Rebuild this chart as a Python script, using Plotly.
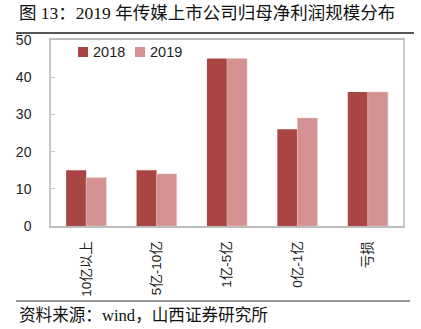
import plotly.graph_objects as go

# Profit-size buckets and number of listed media companies in each
categories = ["10亿以上", "5亿-10亿", "1亿-5亿", "0亿-1亿", "亏损"]
series_names = ["2018", "2019"]
counts_2018 = [15, 15, 45, 26, 36]
counts_2019 = [13, 14, 45, 29, 36]
y_ticks = [0, 10, 20, 30, 40, 50]
colors = ["#A94644", "#D39191"]

W, H = 421, 329
L, R, T, B = 51, 18, 40, 103
pw, ph = W - L - R, H - T - B


def px(x):
    return (x - L) / pw


def py(y):
    return (H - B - y) / ph


fig = go.Figure()
fig.add_trace(go.Bar(name=series_names[0], x=categories, y=counts_2018,
                     marker=dict(color=colors[0], line=dict(width=0))))
fig.add_trace(go.Bar(name=series_names[1], x=categories, y=counts_2019,
                     marker=dict(color=colors[1], line=dict(color="#E6C2C2", width=0.6))))

tick_font = dict(family="Liberation Sans, Noto Sans CJK SC", size=13.5, color="#222222")

fig.update_layout(
    width=W, height=H,
    margin=dict(l=L, r=R, t=T, b=B, pad=0),
    paper_bgcolor="white", plot_bgcolor="white",
    barmode="group", bargap=0.43, bargroupgap=0,
    showlegend=False,
    xaxis=dict(showline=True, linecolor="#BDBDBD", linewidth=1.5, mirror=True,
               showgrid=False, ticks="", tickangle=-90, tickfont=tick_font,
               ticklabelstandoff=8),
    yaxis=dict(range=[0, 50], tickvals=y_ticks, showline=True, linecolor="#C8C8C8",
               linewidth=1.5, mirror=True, showgrid=False, zeroline=False,
               ticks="inside", ticklen=4, tickcolor="#C8C8C8",
               tickfont=dict(family="Liberation Sans", size=14, color="#222222"),
               ticklabelstandoff=15),
    font=dict(family="Liberation Sans, Noto Sans CJK SC"),
)

# Compact legend: colour swatch followed by series name
legend_x = [78, 135]
for name, color, x0 in zip(series_names, colors, legend_x):
    fig.add_shape(type="rect", xref="paper", yref="paper",
                  x0=px(x0), x1=px(x0 + 10), y0=py(47), y1=py(57),
                  fillcolor=color, line=dict(width=0))
    fig.add_annotation(text=name, xref="paper", yref="paper",
                       x=px(x0 + 13), y=py(52), xanchor="left", yanchor="middle",
                       showarrow=False,
                       font=dict(family="Liberation Sans", size=14.5, color="#222222"))

fig.add_annotation(text="图 13：2019 年传媒上市公司归母净利润规模分布",
                   xref="paper", yref="paper", x=px(17), y=py(13),
                   xanchor="left", yanchor="middle", showarrow=False,
                   font=dict(family="Liberation Serif, Noto Sans CJK SC", size=17.5, color="#111111"))
fig.add_annotation(text="资料来源：wind，山西证券研究所",
                   xref="paper", yref="paper", x=px(17), y=py(315),
                   xanchor="left", yanchor="middle", showarrow=False,
                   font=dict(family="Liberation Serif, Noto Sans CJK SC", size=16.6, color="#111111"))

fig.add_shape(type="line", xref="paper", yref="paper", x0=px(16), x1=px(414),
              y0=py(33), y1=py(33), line=dict(color="#555555", width=2))
fig.add_shape(type="line", xref="paper", yref="paper", x0=px(16), x1=px(410),
              y0=py(301), y1=py(301), line=dict(color="#333333", width=1))

fig.write_html("out.html")
